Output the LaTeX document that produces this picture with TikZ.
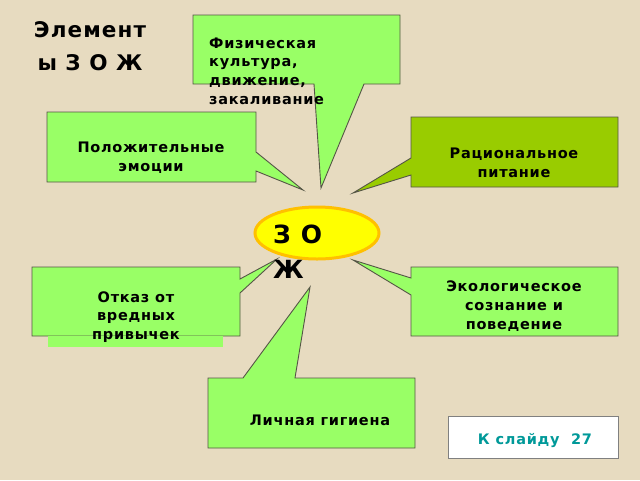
\documentclass[tikz,border=0pt]{standalone}
\usepackage{fontspec}
\setmainfont{DejaVu Sans}[LetterSpace=5]
\usetikzlibrary{calc}

\definecolor{parchment}{RGB}{231,219,192}
\definecolor{lightgreen}{RGB}{153,255,102}
\definecolor{olivegreen}{RGB}{153,204,0}
\definecolor{edgegray}{RGB}{85,85,70}
\definecolor{zojyellow}{RGB}{255,255,0}
\definecolor{zojorange}{RGB}{255,192,0}
\definecolor{slidelink}{RGB}{0,153,153}

\begin{document}
\begin{tikzpicture}[x=1pt, y=-1pt
        , callout/.style={fill=lightgreen, draw=edgegray, line width=0.9pt}
        , label/.style={inner sep=0pt, align=center, font=\bfseries\fontsize{14.5}{18.7}\selectfont}
    ]

    %% parchment background
    \fill[parchment] (0,0) rectangle (640,480);
    \useasboundingbox (0,0) rectangle (640,480);

    % title
    \node[inner sep=0pt, align=center, font=\bfseries\fontsize{21.5}{33}\selectfont]
        (title) at (90,46) {Элемент\\ы З О Ж};

    % callouts, each with its tail pointing to the centre
    \draw[callout] (193,15) -- (400,15) -- (400,84) -- (364,84)
        -- (321,188) -- (314,84) -- (193,84) -- cycle;
    \draw[callout] (47,112) -- (256,112) -- (256,152) -- (303,190)
        -- (256,171) -- (256,182) -- (47,182) -- cycle;
    \draw[callout, fill=olivegreen] (411,117) -- (618,117) -- (618,187)
        -- (411,187) -- (411,175) -- (353,193) -- (411,158) -- cycle;
    \draw[callout] (32,267) -- (240,267) -- (240,279) -- (277,259)
        -- (240,293) -- (240,336) -- (32,336) -- cycle;
    \fill[lightgreen] (48,335.5) rectangle (223,347);
    \draw[callout] (411,267) -- (618,267) -- (618,336) -- (411,336)
        -- (411,295) -- (353,260) -- (411,278) -- cycle;
    \draw[callout] (208,378) -- (243,378) -- (310,287) -- (295,378)
        -- (415,378) -- (415,448) -- (208,448) -- cycle;

    %% the healthy way of life in the middle
    \draw[fill=zojyellow, draw=zojorange, line width=3pt]
        (317,233) ellipse (62 and 26);

    % texts
    \node[label, anchor=west, align=left] (sport) at (209,71)
        {Физическая\\культура,\\движение,\\закаливание};
    \node[label] (emotions) at (151,158) {Положительные\\эмоции};
    \node[label] (food) at (514,163) {Рациональное\\питание};
    \node[label] (habits) at (136,317) {Отказ от\\вредных\\привычек};
    \node[label] (ecology) at (514,306) {Экологическое\\сознание и\\поведение};
    \node[label] (hygiene) at (320,420) {Личная гигиена};
    \node[inner sep=0pt, anchor=west, align=left, font=\bfseries\fontsize{25}{35}\selectfont]
        (zoj) at (273,252) {З О\\Ж};

    % link to another slide
    \draw[fill=white, draw=gray, line width=1pt] (448,416) rectangle (618,458);
    \node[label, text=slidelink] (link) at (535,441) {К слайду\ \ 27};
\end{tikzpicture}
\end{document}
